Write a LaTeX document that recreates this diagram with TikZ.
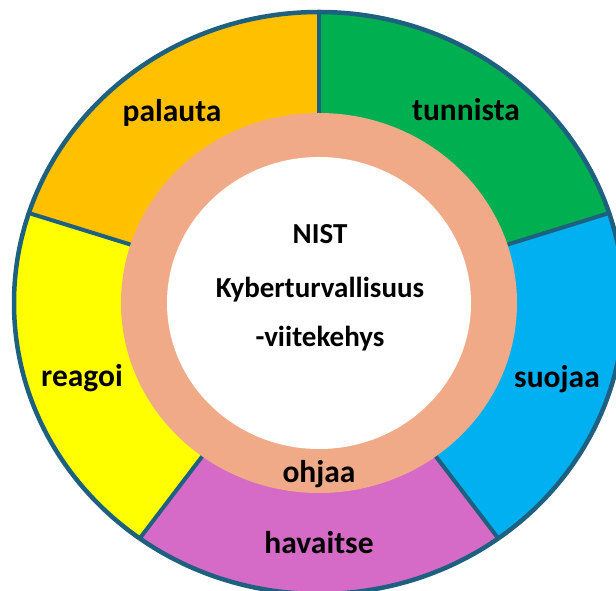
\documentclass[tikz,border=0pt]{standalone}
\usepackage{fontspec}
\setmainfont{Carlito}
\definecolor{edgeblue}{RGB}{30,96,128}
\definecolor{cgreen}{HTML}{00B050}
\definecolor{corange}{HTML}{FFC000}
\definecolor{cyellow}{HTML}{FFFF00}
\definecolor{cpurple}{HTML}{D66BC7}
\definecolor{cblue}{HTML}{00B0F0}
\definecolor{cpeach}{HTML}{F0AA87}
\begin{document}
\begin{tikzpicture}[x=1pt,y=1pt,
  lab/.style={font=\fontsize{31.5}{34}\selectfont\bfseries, inner sep=0pt, anchor=base},
  ctr/.style={font=\fontsize{29}{32}\selectfont\bfseries, inner sep=0pt, anchor=base},
  divider/.style={draw=edgeblue, line width=4pt}]
\useasboundingbox (0,0) rectangle (616,591);
\clip (0,0) rectangle (616,591);
\coordinate (C) at (319,288);
% sectors
\fill[cgreen]  (C) -- ++(18:305pt and 291pt) arc[start angle=18, end angle=90, x radius=305pt, y radius=291pt] -- cycle;
\fill[corange] (C) -- ++(90:305pt and 291pt) arc[start angle=90, end angle=162, x radius=305pt, y radius=291pt] -- cycle;
\fill[cyellow] (C) -- ++(162:305pt and 291pt) arc[start angle=162, end angle=234, x radius=305pt, y radius=291pt] -- cycle;
\fill[cpurple] (C) -- ++(234:305pt and 291pt) arc[start angle=234, end angle=306, x radius=305pt, y radius=291pt] -- cycle;
\fill[cblue]   (C) -- ++(306:305pt and 291pt) arc[start angle=306, end angle=378, x radius=305pt, y radius=291pt] -- cycle;
% dividers and outline
\foreach \a in {18,90,162,234,306} \draw[divider] (C) -- ++(\a:305pt and 291pt);
\draw[edgeblue, line width=4.5pt] (C) ellipse [x radius=305pt, y radius=291pt];
% inner rings
\fill[cpeach] (C) ellipse [x radius=198pt, y radius=190pt];
\fill[white] (C) ellipse [x radius=152pt, y radius=146pt];
% labels
\node[lab] (tunnista) at (466,470) {tunnista};
\node[lab] (palauta) at (172,469) {palauta};
\node[lab] (reagoi) at (82,204) {reagoi};
\node[lab] (suojaa) at (557,203) {suojaa};
\node[lab] (ohjaa) at (319,108) {ohjaa};
\node[lab] (havaitse) at (319,37) {havaitse};
\node[ctr] (nist) at (320,347) {NIST};
\node[ctr] (kyber) at (320,293) {Kyberturvallisuus};
\node[ctr] (viite) at (320,244) {-viitekehys};
\end{tikzpicture}
\end{document}
